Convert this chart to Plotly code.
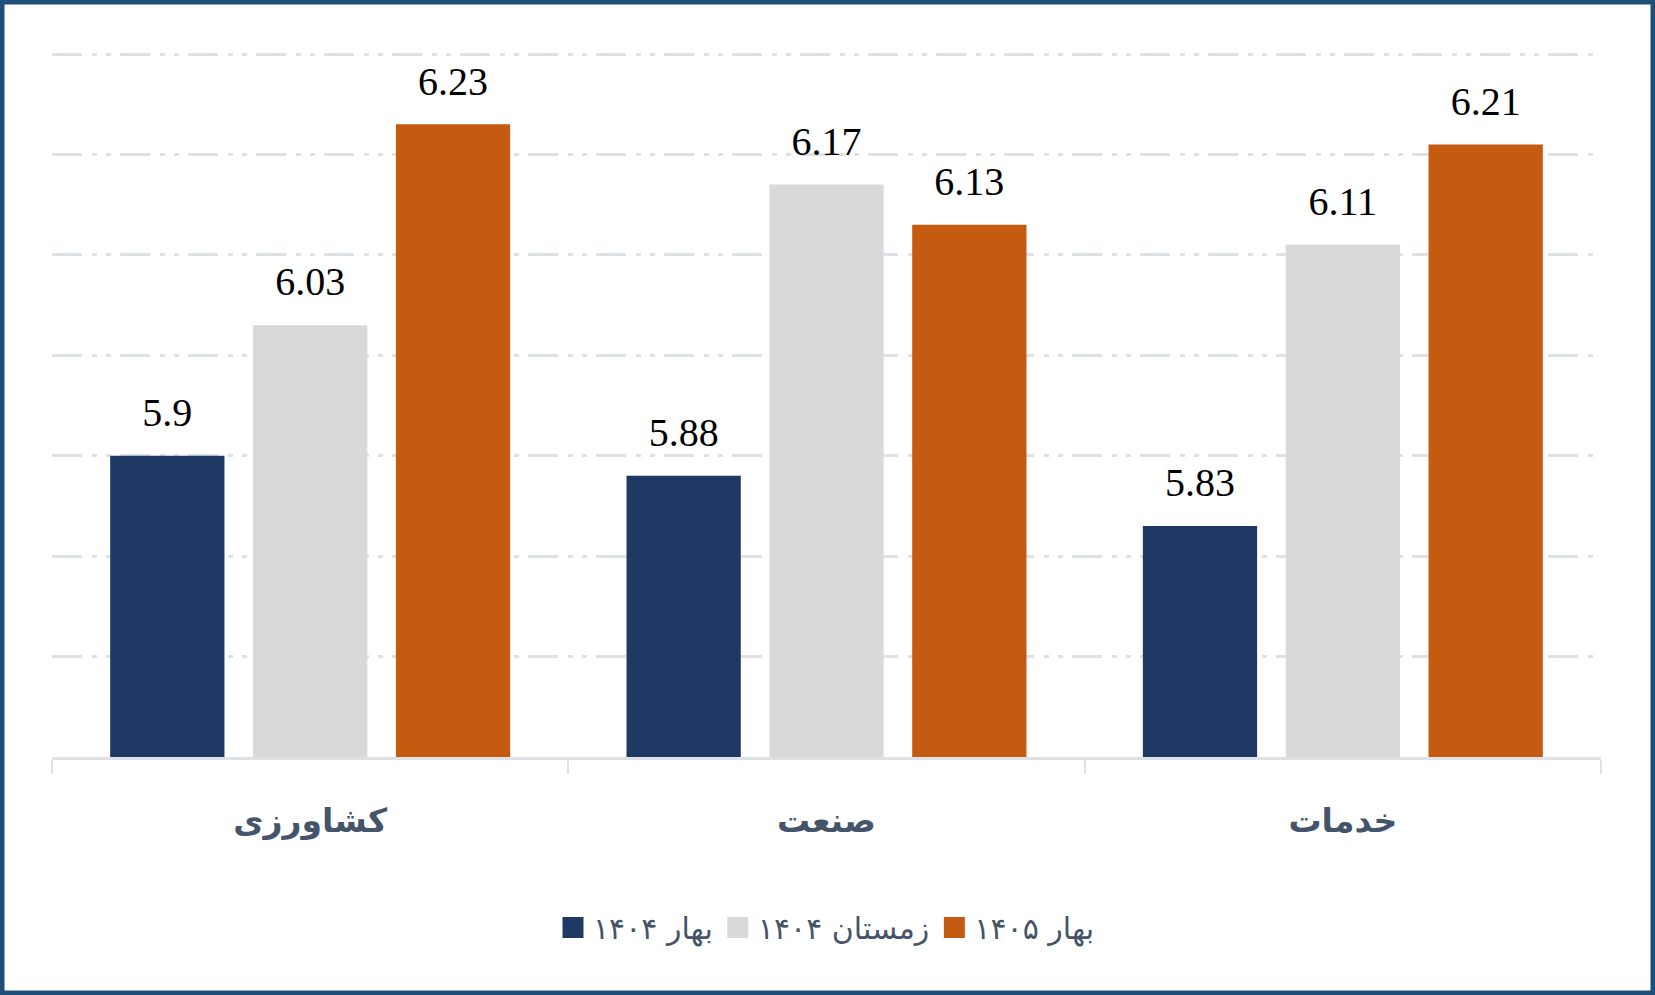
import plotly.graph_objects as go

categories = ["کشاورزی", "صنعت", "خدمات"]
series_names = ["بهار ۱۴۰۴", "زمستان ۱۴۰۴", "بهار ۱۴۰۵"]
spring_1404 = [5.9, 5.88, 5.83]
winter_1404 = [6.03, 6.17, 6.11]
spring_1405 = [6.23, 6.13, 6.21]
series_values = [spring_1404, winter_1404, spring_1405]
colors = ["#203864", "#D9D9D9", "#C55A11"]

W, H = 1655, 995
ML, MR, MT, MB = 52, 54, 52, 238
PW, PH = W - ML - MR, H - MT - MB

fig = go.Figure()

for name, vals, col in zip(series_names, series_values, colors):
    fig.add_trace(go.Bar(
        x=categories, y=vals, name=name, marker=dict(color=col, line=dict(width=0)),
        showlegend=False, hoverinfo="skip",
    ))

for name, vals in zip(series_names, series_values):
    fig.add_trace(go.Scatter(
        x=categories, y=vals, mode="markers+text",
        text=[str(v) for v in vals], textposition="top center",
        textfont=dict(family="Liberation Serif", size=40, color="#000000"),
        marker=dict(size=30, opacity=0), cliponaxis=False,
        showlegend=False, hoverinfo="skip",
    ))

for name, col in zip(series_names, colors):
    fig.add_trace(go.Scatter(
        x=[None], y=[None], mode="markers", name=name,
        marker=dict(symbol="square", size=16, color=col, line=dict(color=col, width=5)),
        xaxis="x2", yaxis="y2", hoverinfo="skip",
    ))

grid_col = "#DEE2E8"
border = 4.5
fig.add_shape(
    type="rect", xref="paper", yref="paper",
    x0=(border / 2 - ML) / PW, x1=(W - border / 2 - ML) / PW,
    y0=(PH - (H - border / 2 - MT)) / PH, y1=(PH - (border / 2 - MT)) / PH,
    line=dict(color="#1F4E79", width=border), fillcolor="rgba(0,0,0,0)", layer="above",
)

fig.update_layout(
    width=W, height=H,
    margin=dict(l=ML, r=MR, t=MT, b=MB, pad=0),
    paper_bgcolor="white", plot_bgcolor="white",
    barmode="group", bargap=0.17, bargroupgap=0.2,
    scattermode="group", scattergap=0.17,
    xaxis=dict(
        type="category", tickson="boundaries", ticks="outside", ticklen=14,
        tickwidth=2, tickcolor=grid_col, showline=True, linecolor=grid_col,
        linewidth=3, showgrid=False, ticklabelstandoff=32,
        tickfont=dict(family="DejaVu Sans", size=33, color="#44546A", weight="bold"),
    ),
    yaxis=dict(
        range=[5.6, 6.302], dtick=0.1, tick0=5.6, showticklabels=False,
        showgrid=True, gridcolor=grid_col, gridwidth=3,
        griddash="30px,10px,5px,9px,5px,9px", zeroline=False, showline=False,
    ),
    xaxis2=dict(overlaying="x", visible=False),
    yaxis2=dict(overlaying="y", visible=False),
    legend=dict(
        orientation="h", x=0.5, xanchor="center", y=-0.242, yanchor="middle",
        font=dict(family="DejaVu Sans", size=30, color="#44546A"),
        itemsizing="trace", itemwidth=30, traceorder="normal",
    ),
)

fig.write_html("out.html", config={"displayModeBar": False},
               post_script="document.body.style.margin='0';")
